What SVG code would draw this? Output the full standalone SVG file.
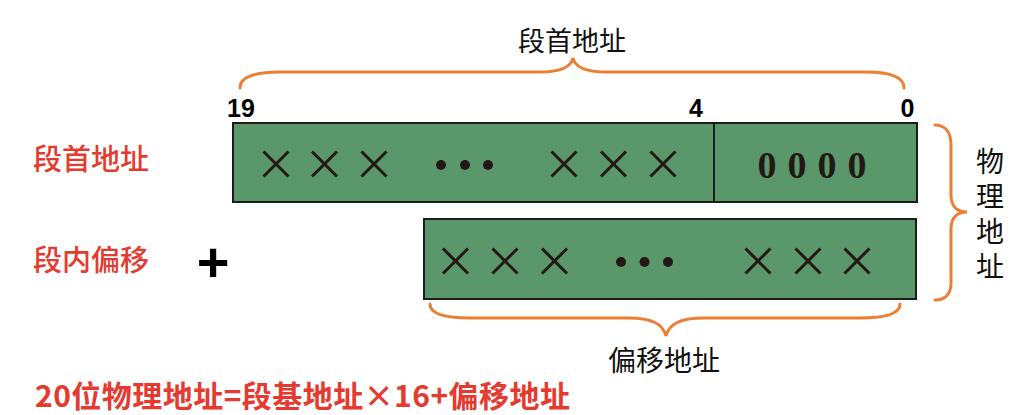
<svg xmlns="http://www.w3.org/2000/svg" width="1014" height="415" viewBox="0 0 1014 415">
<defs>
<style>
.box{fill:#5a986b;stroke:#1c1c1c;stroke-width:2}
.x{stroke:#231815;stroke-width:3;fill:none}
.dot{fill:#231815}
.brace{fill:none;stroke:#ed7d31;stroke-width:3;stroke-linecap:round}
.cn{font-family:"Noto Sans CJK SC","Noto Sans",sans-serif;fill:#111}
.red{font-family:"Noto Sans CJK SC","Noto Sans",sans-serif;fill:#e53a2f;font-weight:500}
.formula{font-family:"Noto Sans CJK SC","Noto Sans",sans-serif;fill:#e53a2f;font-weight:700}
.num{font-family:"Liberation Sans",Arial,sans-serif;font-weight:bold;fill:#000;text-anchor:middle}
.zero{font-family:"Liberation Serif","Times New Roman",serif;font-weight:bold;fill:#231815;text-anchor:middle}
</style>
<g id="xm"><line class="x" x1="-12.5" y1="-12.5" x2="12.5" y2="12.5"/><line class="x" x1="12.5" y1="-12.5" x2="-12.5" y2="12.5"/></g>
</defs>
<rect width="1014" height="415" fill="#fff"/>

<g id="connectors">
<path class="brace" d="M240,88 C240,77 254,72 280,72 L540,72 C561,72 571,67 573,58 C575,67 585,72 606,72 L866,72 C892,72 904,77 904,88"/>
<path class="brace" d="M430,304 C430,314 444,318 470,318 L628,318 C652,318 663,324 666,336 C669,324 680,318 704,318 L860,318 C886,318 900,314 900,304"/>
<path class="brace" d="M935,125 C945,125 951,132 951,145 L951,195 C951,206 957,212 967,212 C957,212 951,218 951,229 L951,283 C951,294 945,300 935,300"/>
</g>

<g id="top-label">
<text class="cn" x="572" y="51" font-size="27" text-anchor="middle">段首地址</text>
</g>
<g id="bit-numbers">
<text class="num" x="241" y="117" font-size="25">19</text>
<text class="num" x="696" y="117" font-size="25">4</text>
<text class="num" x="907.5" y="117" font-size="25">0</text>
</g>

<g id="segment-base">
<rect class="box" x="233" y="123" width="684" height="79"/>
<line x1="714" y1="123" x2="714" y2="202" stroke="#1c1c1c" stroke-width="2"/>
<use href="#xm" x="276" y="164"/>
<use href="#xm" x="324.5" y="164"/>
<use href="#xm" x="374" y="164"/>
<circle class="dot" cx="441" cy="165" r="5"/>
<circle class="dot" cx="465" cy="165" r="5"/>
<circle class="dot" cx="488" cy="165" r="5"/>
<use href="#xm" x="564" y="164"/>
<use href="#xm" x="613.5" y="164"/>
<use href="#xm" x="663" y="164"/>
<text class="zero" x="767 797 827 857" y="178" font-size="38">0000</text>
</g>

<g id="offset">
<rect class="box" x="424" y="219" width="492" height="80"/>
<use href="#xm" x="455.5" y="261"/>
<use href="#xm" x="505" y="261"/>
<use href="#xm" x="554.5" y="261"/>
<circle class="dot" cx="621" cy="262" r="5"/>
<circle class="dot" cx="644.5" cy="262" r="5"/>
<circle class="dot" cx="668" cy="262" r="5"/>
<use href="#xm" x="758" y="261"/>
<use href="#xm" x="808" y="261"/>
<use href="#xm" x="857" y="261"/>
</g>

<g id="left-labels">
<text class="red" x="33" y="170" font-size="29">段首地址</text>
<text class="red" x="33" y="271" font-size="29">段内偏移</text>
<text x="213" y="281" font-size="56" font-family="Liberation Sans,Arial,sans-serif" font-weight="bold" text-anchor="middle" fill="#000">+</text>
</g>

<g id="physical-label">
<text class="cn" x="990" y="147" font-size="28" writing-mode="vertical-rl" letter-spacing="7">物理地址</text>
</g>

<g id="offset-label">
<text class="cn" x="664" y="371" font-size="28" text-anchor="middle">偏移地址</text>
</g>

<g id="formula">
<text class="formula" x="35" y="407" font-size="30" textLength="535" lengthAdjust="spacing">20位物理地址=段基地址×16+偏移地址</text>
</g>
</svg>
